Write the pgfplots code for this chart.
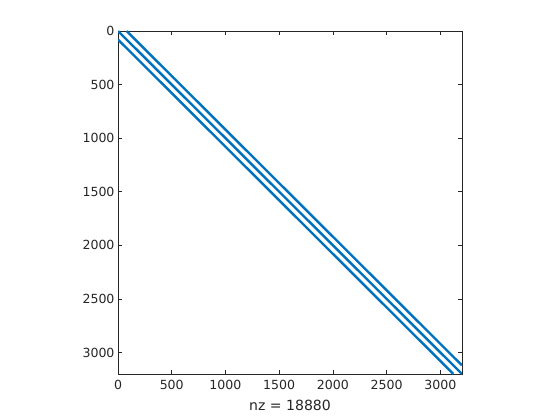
\documentclass[border=0pt]{standalone}
\usepackage{fontspec}
\setmainfont{DejaVu Sans}
\usepackage{pgfplots}
\pgfplotsset{compat=1.18}
\definecolor{mblue}{RGB}{0,114,189}
\definecolor{axgray}{RGB}{38,38,38}
\begin{document}
\begin{tikzpicture}
\useasboundingbox (0bp,0bp) rectangle (560bp,420bp);
\begin{axis}[
 at={(118bp,46bp)}, anchor=south west,
 width=344bp, height=343bp, scale only axis,
 xmin=0, xmax=3201, ymin=0, ymax=3201,
 y dir=reverse,
 xtick={0,500,...,3000}, ytick={0,500,...,3000},
 tick align=inside, tick pos=both,
 major tick length=4bp,
 axis line style={axgray, line width=0.5bp},
 every tick/.style={axgray, line width=0.5bp},
 tick label style={font=\fontsize{12.6}{14}\selectfont, text=axgray},
 xticklabel style={yshift=-3bp},
 /pgf/number format/assume math mode=true,
 /pgf/number format/set thousands separator={},
 xlabel={nz = 18880},
 xlabel style={font=\fontsize{14.1}{16}\selectfont, text=axgray, yshift=-3bp},
 clip=true,
]
\addplot[mblue, line width=2.4bp] coordinates {(1,1) (3200,3200)};
\addplot[mblue, line width=2.4bp] coordinates {(81,1) (3200,3120)};
\addplot[mblue, line width=2.4bp] coordinates {(1,81) (3120,3200)};
\end{axis}
\end{tikzpicture}
\end{document}
